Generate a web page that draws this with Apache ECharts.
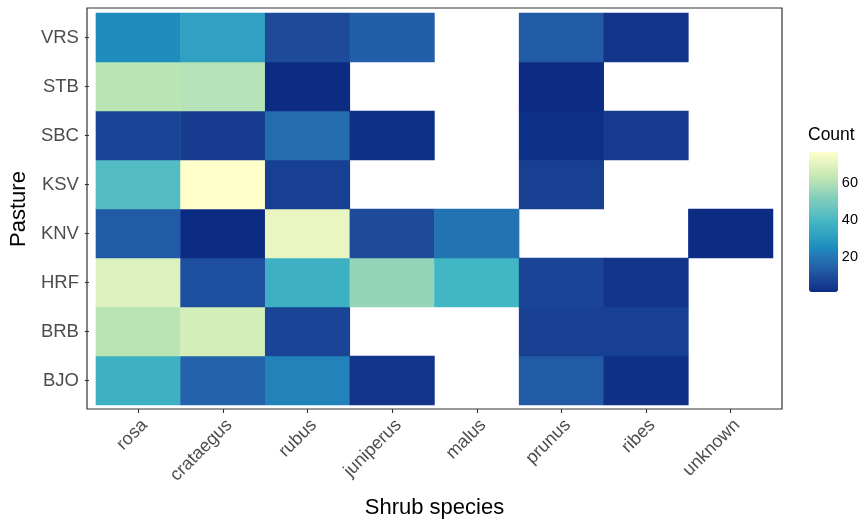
<!DOCTYPE html>
<html>
<head>
<meta charset="utf-8">
<script src="https://cdn.jsdelivr.net/npm/echarts@6/dist/echarts.min.js"></script>
<style>html,body{margin:0;padding:0;background:#fff;}#c{width:861px;height:525px;}</style>
</head>
<body>
<div id="c"></div>
<script>
// ---- data ----
const species = ['rosa', 'crataegus', 'rubus', 'juniperus', 'malus', 'prunus', 'ribes', 'unknown'];
const pastures = ['BJO', 'BRB', 'HRF', 'KNV', 'KSV', 'SBC', 'STB', 'VRS'];
// counts per pasture, in species order (null = no observation)
const BJO = [37, 15, 23, 3, null, 13, 2, null];
const BRB = [62, 67, 7, null, null, 6, 6, null];
const HRF = [69, 10, 37, 55, 39, 7, 3, null];
const KNV = [13, 1, 72, 9, 19, null, null, 1];
const KSV = [42, 77, 6, null, null, 6, null, null];
const SBC = [7, 5, 17, 2, null, 2, 5, null];
const STB = [62, 61, 1, null, null, 1, null, null];
const VRS = [25, 32, 9, 14, null, 13, 3, null];
const legendTicks = [20, 40, 60];

const rows = { BJO, BRB, HRF, KNV, KSV, SBC, STB, VRS };
const cells = [];
pastures.forEach((p, yi) => {
  rows[p].forEach((v, xi) => { if (v !== null) cells.push([xi, yi, v]); });
});
let vmin = Infinity, vmax = -Infinity;
cells.forEach(c => { vmin = Math.min(vmin, c[2]); vmax = Math.max(vmax, c[2]); });

// ---- YlGnBu (7) interpolated in Lab like ggplot's distiller ----
const stops = ['#0c2c84', '#225ea8', '#1d91c0', '#41b6c4', '#7fcdbb', '#c7e9b4', '#ffffcc'];
function hex2rgb(h) { return [1, 3, 5].map(i => parseInt(h.substr(i, 2), 16) / 255); }
function lin(c) { return c <= 0.04045 ? c / 12.92 : Math.pow((c + 0.055) / 1.055, 2.4); }
function unlin(c) { return c <= 0.0031308 ? 12.92 * c : 1.055 * Math.pow(c, 1 / 2.4) - 0.055; }
const Wn = [0.95047, 1, 1.08883];
function f(t) { return t > 0.008856 ? Math.cbrt(t) : 7.787 * t + 16 / 116; }
function finv(t) { return t > 0.206893 ? t * t * t : (t - 16 / 116) / 7.787; }
function toLab(h) {
  const [r, g, b] = hex2rgb(h).map(lin);
  const X = 0.4124 * r + 0.3576 * g + 0.1805 * b;
  const Y = 0.2126 * r + 0.7152 * g + 0.0722 * b;
  const Z = 0.0193 * r + 0.1192 * g + 0.9505 * b;
  const fx = f(X / Wn[0]), fy = f(Y / Wn[1]), fz = f(Z / Wn[2]);
  return [116 * fy - 16, 500 * (fx - fy), 200 * (fy - fz)];
}
function fromLab(L) {
  const fy = (L[0] + 16) / 116, fx = fy + L[1] / 500, fz = fy - L[2] / 200;
  const X = finv(fx) * Wn[0], Y = finv(fy) * Wn[1], Z = finv(fz) * Wn[2];
  let r = 3.2406 * X - 1.5372 * Y - 0.4986 * Z;
  let g = -0.9689 * X + 1.8758 * Y + 0.0415 * Z;
  let b = 0.0557 * X - 0.2040 * Y + 1.0570 * Z;
  return '#' + [r, g, b].map(c => {
    const v = Math.round(Math.min(1, Math.max(0, unlin(Math.min(1, Math.max(0, c))))) * 255);
    return v.toString(16).padStart(2, '0');
  }).join('');
}
const labStops = stops.map(toLab);
const palette = [];
const N = 97;
for (let i = 0; i < N; i++) {
  const t = i / (N - 1) * (stops.length - 1);
  const k = Math.min(stops.length - 2, Math.floor(t));
  const u = t - k;
  const a = labStops[k], b = labStops[k + 1];
  palette.push(fromLab([a[0] + (b[0] - a[0]) * u, a[1] + (b[1] - a[1]) * u, a[2] + (b[2] - a[2]) * u]));
}

// ---- layout ----
const P = { left: 87, top: 8, right: 782, bottom: 409 };   // panel
const G = { left: 94, top: 13, width: 679, height: 392 };  // tile area
const L = { left: 809, top: 152, width: 29, height: 140 }; // colour bar

const chart = echarts.init(document.getElementById('c'), null, { renderer: 'canvas' });
const font = 'Liberation Sans, Arial, Helvetica, sans-serif';
chart.setOption({
  backgroundColor: '#ffffff',
  animation: false,
  textStyle: { fontFamily: font },
  grid: [
    { left: G.left, top: G.top, width: G.width, height: G.height },
    { left: L.left, top: L.top, width: L.width, height: L.height, show: false }
  ],
  xAxis: [
    {
      type: 'category', data: species, gridIndex: 0, offset: P.bottom - (G.top + G.height),
      axisLine: { show: false },
      axisTick: { show: true, alignWithLabel: true, length: 4, lineStyle: { color: '#333333', width: 1.1 } },
      axisLabel: { rotate: 45, align: 'right', verticalAlign: 'top', margin: 7, color: '#4d4d4d', fontSize: 18, fontFamily: font },
      splitLine: { show: false },
      name: 'Shrub species', nameLocation: 'middle', nameGap: 99,
      nameTextStyle: { color: '#000000', fontSize: 22, fontFamily: font, verticalAlign: 'middle' }
    },
    { type: 'value', gridIndex: 1, show: false, min: 0, max: 1 }
  ],
  yAxis: [
    {
      type: 'category', data: pastures, gridIndex: 0, offset: G.left - P.left,
      axisLine: { show: false },
      axisTick: { show: true, alignWithLabel: true, length: 4, lineStyle: { color: '#333333', width: 1.1 } },
      axisLabel: { margin: 10, color: '#4d4d4d', fontSize: 18.5, fontFamily: font },
      splitLine: { show: false },
      name: 'Pasture', nameLocation: 'middle', nameGap: 63, nameRotate: 90,
      nameTextStyle: { color: '#000000', fontSize: 22, fontFamily: font, verticalAlign: 'middle' }
    },
    {
      type: 'value', gridIndex: 1, position: 'right', min: vmin, max: vmax,
      axisLine: { show: false }, splitLine: { show: false },
      axisTick: { show: true, inside: true, length: 5, customValues: legendTicks, lineStyle: { color: '#ffffff', width: 1 } },
      axisLabel: { show: true, customValues: legendTicks, margin: 7, color: '#000000', fontSize: 14.5, fontFamily: font }
    },
    {
      type: 'value', gridIndex: 1, position: 'left', min: vmin, max: vmax,
      axisLine: { show: false }, splitLine: { show: false },
      axisTick: { show: true, inside: true, length: 5, customValues: legendTicks, lineStyle: { color: '#ffffff', width: 1 } },
      axisLabel: { show: false }
    }
  ],
  visualMap: {
    type: 'continuous', min: vmin, max: vmax, seriesIndex: 0, calculable: false,
    orient: 'vertical', left: L.left, top: L.top, itemWidth: L.width, itemHeight: L.height,
    padding: 0, text: null, showLabel: false, hoverLink: false,
    inRange: { color: palette }
  },
  graphic: [
    {
      type: 'rect', z: 100, silent: true,
      shape: { x: P.left, y: P.top, width: P.right - P.left, height: P.bottom - P.top },
      style: { fill: 'none', stroke: '#333333', lineWidth: 1.2 }
    },
    {
      type: 'text', z: 100, silent: true, x: 808, y: 135,
      style: { text: 'Count', fill: '#000000', font: '17.5px ' + font, textVerticalAlign: 'middle', textAlign: 'left' }
    }
  ],
  series: [{
    type: 'heatmap', xAxisIndex: 0, yAxisIndex: 0, data: cells,
    itemStyle: { borderWidth: 0 },
    emphasis: { disabled: true },
    label: { show: false }
  }]
});
</script>
</body>
</html>
